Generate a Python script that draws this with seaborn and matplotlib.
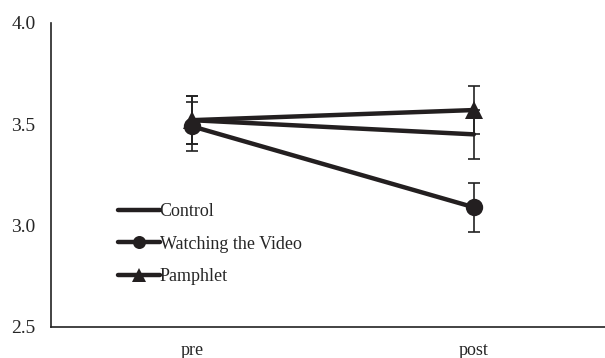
import seaborn as sns
import matplotlib.pyplot as plt
import pandas as pd

# means and standard errors
time_points = ['pre', 'post']
groups = ['Control', 'Watching the Video', 'Pamphlet']
control = [3.52, 3.45]
video = [3.49, 3.09]
pamphlet = [3.52, 3.57]
control_err = [0.12, 0.12]
video_err = [0.12, 0.12]
pamphlet_err = [0.12, 0.12]
group_markers = ['None', 'o', '^']

data = pd.DataFrame({
    'time': time_points * 3,
    'group': [g for g in groups for _ in time_points],
    'score': control + video + pamphlet,
    'err': control_err + video_err + pamphlet_err,
})

sns.set_style('white')
plt.rcParams['font.family'] = ['Liberation Serif', 'DejaVu Serif']

fig = plt.figure(figsize=(6.05, 3.58), dpi=100)
ax = fig.add_axes([0.084, 0.087, 0.916, 0.849])

x_pos = {t: i for i, t in enumerate(time_points)}
for g, m in zip(groups, group_markers):
    d = data[data['group'] == g]
    # error bars underneath the lines
    ax.errorbar([x_pos[t] for t in d['time']], d['score'], yerr=d['err'],
                fmt='none', ecolor='#222222', elinewidth=1.2, capsize=4.5, capthick=1.2, zorder=1)
    sns.lineplot(x=[x_pos[t] for t in d['time']], y=d['score'].values, color='#231f20',
                 linewidth=3.2, marker=m, markersize=12.5, markeredgewidth=0,
                 label=g, ax=ax, zorder=3)

ax.set_ylim(2.5, 4.0)
ax.set_yticks([2.5, 3.0, 3.5, 4.0])
ax.set_yticklabels(['2.5', '3.0', '3.5', '4.0'], fontsize=14)
ax.set_xlim(-0.5, 1.465)
ax.set_xticks([0.5])
ax.set_xticklabels([''])
ax.set_xticks([0, 1], minor=True)
ax.set_xticklabels(time_points, minor=True, fontsize=13)
ax.tick_params(axis='x', which='minor', length=0, pad=11)
ax.tick_params(axis='x', which='major', direction='out', length=5, width=1, color='#222222')
ax.tick_params(axis='y', direction='out', length=5, width=1, color='#222222', pad=6)
ax.set_xlabel('')
ax.set_ylabel('')

for side in ['top', 'right']:
    ax.spines[side].set_visible(False)
for side in ['left', 'bottom']:
    ax.spines[side].set_color('#222222')
    ax.spines[side].set_linewidth(1.2)

handles, labels = ax.get_legend_handles_labels()
ax.legend(handles, labels, loc='upper left', bbox_to_anchor=(0.092, 0.46), frameon=False,
          fontsize=13, handlelength=2.3, handletextpad=0.0, labelspacing=0.85,
          markerscale=0.75)

plt.savefig('out.png', dpi=100)
